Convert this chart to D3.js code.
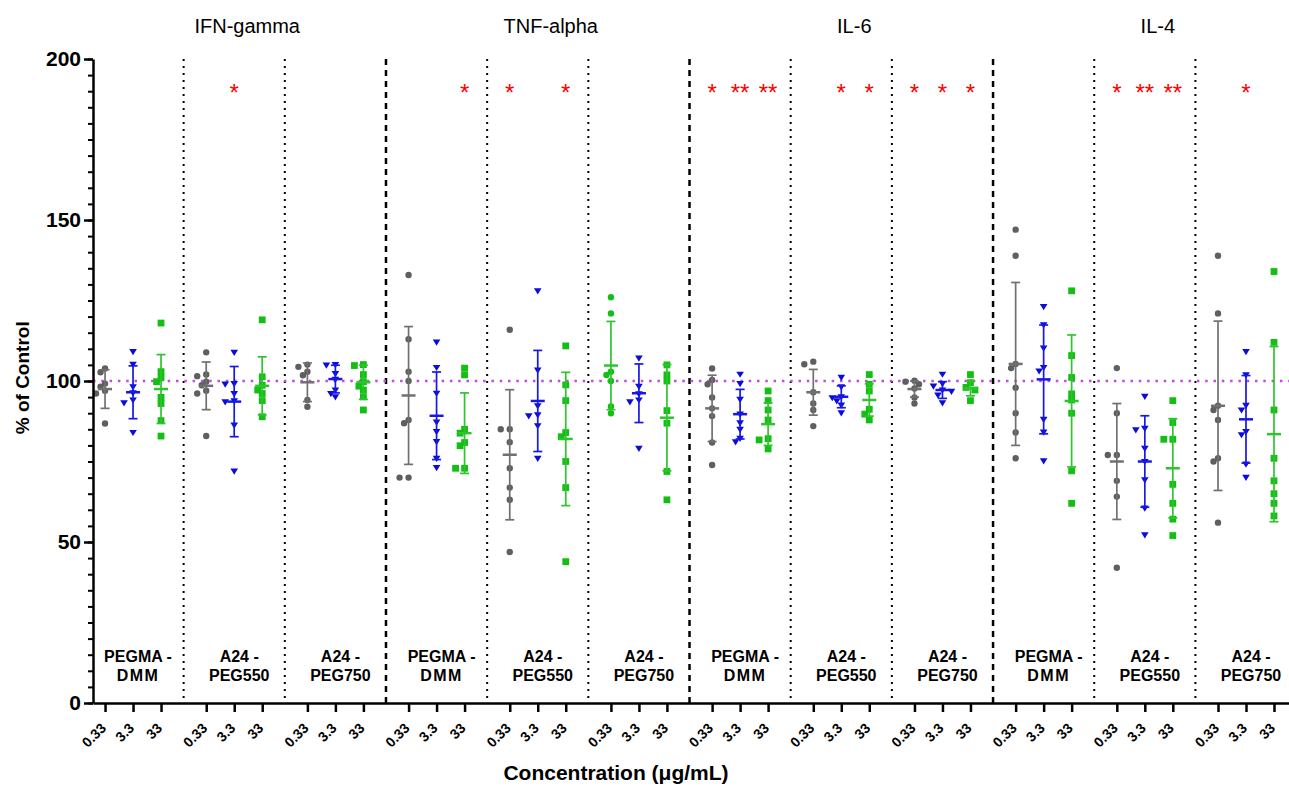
<!DOCTYPE html>
<html>
<head>
<meta charset="utf-8">
<script src="https://cdn.jsdelivr.net/npm/d3@7"></script>
<style>
  body { margin: 0; background: #fff; }
  text { font-family: "Liberation Sans", Arial, sans-serif; }
</style>
</head>
<body>
<div id="chart"></div>
<script>
// categories
var cytokines = ['IFN-gamma', 'TNF-alpha', 'IL-6', 'IL-4'];
var polymers = [['PEGMA -', 'DMM'], ['A24 -', 'PEG550'], ['A24 -', 'PEG750']];
var concLabels = ['0.33', '3.3', '33'];

// % of control, one array per column (cytokine x polymer x concentration)
var values = [
    [103.9, 102.7, 99.2, 98.2, 97.0, 96.1, 86.8],
    [109.1, 105.2, 98.2, 96.3, 94.1, 93.2, 84.0],
    [118, 102.9, 101.0, 99.8, 94.9, 93.0, 87.7, 82.9],
    [108.9, 102.0, 101.5, 99.8, 98.7, 97.0, 96.1, 82.9],
    [108.9, 99.2, 99.0, 96.1, 93.8, 93.5, 86.3, 72.0],
    [119, 101.3, 98.7, 97.2, 96.1, 93.9, 88.9],
    [105.1, 104.4, 102.9, 101.8, 94.1, 92.0],
    [105.1, 104.9, 102.3, 100.5, 97.2, 96.1, 95.1],
    [105.1, 104.8, 102.0, 99.8, 98.4, 97.2, 95.1, 91.0],
    [132.9, 113.0, 102.9, 100.0, 87.9, 86.9, 70.0, 70.0],
    [112.1, 104.2, 96.2, 87.2, 84.3, 81.2, 76.0, 73.1],
    [104.0, 101.9, 85.0, 83.8, 80.9, 79.9, 72.9, 72.9],
    [115.9, 85.0, 85.0, 81.0, 72.9, 66.9, 63.1, 46.9],
    [128.0, 103.4, 92.3, 89.5, 89.2, 86.1, 76.0],
    [110.9, 98.8, 93.9, 84.0, 82.7, 75.0, 66.9, 43.9],
    [126.0, 121.0, 102.9, 101.9, 100.0, 92.1, 90.0],
    [107.1, 98.3, 96.0, 94.1, 93.5, 79.1],
    [105.0, 101.9, 100.0, 90.8, 86.9, 71.9, 63.1],
    [103.9, 100.3, 99.0, 94.9, 91.5, 89.1, 80.9, 73.9],
    [102.1, 99.2, 94.3, 89.7, 87.0, 85.0, 82.2, 81.1],
    [96.9, 93.9, 91.0, 87.9, 82.1, 81.7, 78.9],
    [106.0, 105.2, 96.5, 93.0, 91.0, 86.0],
    [101.1, 98.2, 95.1, 94.8, 93.8, 92.5, 90.1],
    [102.0, 99.0, 96.9, 91.2, 89.7, 87.9],
    [100.1, 99.8, 99.0, 97.7, 94.9, 93.0],
    [102.1, 99.2, 98.4, 97.2, 96.8, 95.6, 93.2],
    [102.0, 99.5, 98.0, 97.2, 93.9],
    [147, 138.9, 105.3, 104.0, 97.9, 90.0, 84.0, 76.0],
    [123.1, 117.4, 110.2, 104.2, 103.1, 88.1, 84.1, 75.2],
    [128.0, 107.9, 101.1, 96.0, 94.1, 90.0, 72.1, 62.0],
    [104.0, 90.0, 77.0, 77.0, 69.0, 64.1, 42.0],
    [95.2, 85.3, 84.8, 79.1, 75.0, 69.3, 60.5, 52.2],
    [93.9, 87.1, 81.9, 81.9, 67.9, 62.0, 57.1, 52.0],
    [138.9, 121.0, 92.3, 91.0, 87.9, 76.0, 75.0, 56.0],
    [109.1, 101.9, 92.4, 91.0, 84.3, 83.3, 74.2, 70.1],
    [134.0, 112.0, 91.0, 76.0, 69.0, 65.0, 62.0, 58.1]
];

// mean and SD as plotted
var means = [97.5, 96.5, 97.5, 98.5, 93.6, 98.5, 99.6, 100.6, 99.6,
    95.5, 89.2, 83.8, 77.1, 93.8, 82.0, 104.8, 96.2, 88.6,
    91.5, 89.7, 86.6, 96.5, 95.1, 94.1, 97.5, 97.2, 97.7,
    105.3, 100.5, 93.8, 75.0, 75.0, 72.9, 92.3, 88.1, 83.5];
var sds = [6.0, 8.2, 10.7, 7.4, 10.9, 9.0, 6.0, 4.3, 5.3,
    21.4, 13.6, 12.5, 20.2, 15.7, 20.7, 13.7, 9.1, 16.5,
    10.3, 7.7, 6.6, 7.1, 3.4, 5.0, 2.5, 2.6, 2.3,
    25.3, 16.9, 20.5, 18.0, 14.2, 15.4, 26.3, 13.6, 27.2];

// significance marks: column index and label
var sigCols = [4, 11, 12, 14, 18, 19, 20, 22, 23, 24, 25, 26, 30, 31, 32, 34];
var sigLabels = ['*', '*', '*', '*', '*', '**', '**', '*', '*', '*', '*', '*', '*', '**', '**', '*'];

// one column plotted green circles instead of grey
var greenCircleCols = [15];

var yTicks = [0, 50, 100, 150, 200];
var controlLevel = 100;

(function() {

    ///////////////////////
    // layout and scales //
    ///////////////////////

    var width = 1289,
        height = 787;

    var plotLeft = 93, plotRight = 1289, plotTop = 59, plotBottom = 703;
    var groupStride = 3.614; // in concentration steps

    var grey = '#5f5f5f', blue = '#0b0bdc', green = '#12bf12';
    var concColors = [grey, blue, green];
    var barColors = ['#707070', '#1717e6', '#2ec42e'];
    var font = '"Liberation Sans", Arial, sans-serif';

    var svg = d3.select('#chart').append('svg')
        .attr('width', width)
        .attr('height', height)
        .style('background', '#fff');

    function colU(c) {
        var g = Math.floor(c / 3), k = c % 3;
        return g * groupStride + k;
    }

    var x = d3.scaleLinear()
        .domain([-0.43, 42.29])
        .range([plotLeft, plotRight]);

    var y = d3.scaleLinear()
        .domain([0, 200])
        .range([plotBottom, plotTop]);

    var cols = d3.range(values.length);

    // separators between polymer groups
    var seps = d3.range(1, 12).map(function(g) {
        return { u: g * groupStride - 0.807, major: g % 3 === 0 };
    });

    svg.selectAll('.sep')
        .data(seps)
        .enter()
        .append('line')
        .attr('x1', function(d) { return x(d.u); })
        .attr('x2', function(d) { return x(d.u); })
        .attr('y1', y(200))
        .attr('y2', y(0))
        .attr('stroke', '#000')
        .attr('stroke-width', function(d) { return d.major ? 2.5 : 2; })
        .attr('stroke-dasharray', function(d) { return d.major ? '6,5' : '2,5'; });

    // control level line
    svg.append('line')
        .attr('x1', plotLeft)
        .attr('x2', plotRight)
        .attr('y1', y(controlLevel))
        .attr('y2', y(controlLevel))
        .attr('stroke', '#c24be0')
        .attr('stroke-width', 2.5)
        .attr('stroke-dasharray', '2.5,5.8');

    ///////////////////////
    // points, mean, SD  //
    ///////////////////////

    function isGreenCircle(c) { return greenCircleCols.indexOf(c) >= 0; }
    function colorOf(c) { return isGreenCircle(c) ? green : concColors[c % 3]; }
    function barColorOf(c) { return isGreenCircle(c) ? barColors[2] : barColors[c % 3]; }
    function shapeOf(c) {
        if (isGreenCircle(c)) return 'circle';
        return ['circle', 'triangle', 'square'][c % 3];
    }

    // spread overlapping points sideways
    function spread(vals) {
        var sorted = vals.map(function(v, i) { return { v: v, i: i }; })
            .sort(function(a, b) { return b.v - a.v; });
        var placed = [];
        var offs = [0, -4.5, 4.5, -9, 9];
        sorted.forEach(function(p) {
            var py = y(p.v);
            for (var j = 0; j < offs.length; j++) {
                var ok = placed.every(function(q) {
                    var dx = q.dx - offs[j], dy = q.py - py;
                    return Math.sqrt(dx * dx + dy * dy) >= 5.5;
                });
                if (ok) { p.dx = offs[j]; break; }
            }
            if (p.dx === undefined) p.dx = 0;
            p.py = py;
            placed.push(p);
        });
        return placed;
    }

    var pts = [];
    cols.forEach(function(c) {
        spread(values[c]).forEach(function(p) {
            pts.push({ c: c, v: p.v, dx: p.dx });
        });
    });

    var tri = 'M-3.8,-2.6L3.8,-2.6L0,3.6Z';
    var sq = 'M-3.4,-3.4H3.4V3.4H-3.4Z';

    svg.selectAll('.pt')
        .data(pts)
        .enter()
        .append('path')
        .attr('class', 'pt')
        .attr('d', function(d) {
            var s = shapeOf(d.c);
            if (s === 'circle') return d3.symbol(d3.symbolCircle, 32)();
            if (s === 'square') return sq;
            return tri;
        })
        .attr('transform', function(d) {
            return 'translate(' + (x(colU(d.c)) + d.dx) + ',' + y(d.v) + ')';
        })
        .attr('fill', function(d) { return colorOf(d.c); });

    var bars = svg.selectAll('.bar')
        .data(cols)
        .enter()
        .append('g')
        .attr('class', 'bar')
        .attr('stroke', barColorOf);

    bars.append('line')
        .attr('x1', function(c) { return x(colU(c)); })
        .attr('x2', function(c) { return x(colU(c)); })
        .attr('y1', function(c) { return y(means[c] + sds[c]); })
        .attr('y2', function(c) { return y(means[c] - sds[c]); })
        .attr('stroke-width', 1.7);

    [1, -1].forEach(function(sign) {
        bars.append('line')
            .attr('x1', function(c) { return x(colU(c)) - 4.5; })
            .attr('x2', function(c) { return x(colU(c)) + 4.5; })
            .attr('y1', function(c) { return y(means[c] + sign * sds[c]); })
            .attr('y2', function(c) { return y(means[c] + sign * sds[c]); })
            .attr('stroke-width', 1.7);
    });

    bars.append('line')
        .attr('x1', function(c) { return x(colU(c)) - 7; })
        .attr('x2', function(c) { return x(colU(c)) + 7; })
        .attr('y1', function(c) { return y(means[c]); })
        .attr('y2', function(c) { return y(means[c]); })
        .attr('stroke-width', 2.5);

    //////////
    // axes //
    //////////

    var yMinor = svg.append('g')
        .attr('transform', 'translate(' + plotLeft + ',0)')
        .call(d3.axisLeft(y).tickValues(d3.range(0, 201, 5)).tickSize(5).tickFormat(''));
    yMinor.select('.domain').remove();
    yMinor.selectAll('line').attr('stroke-width', 2);

    var yAxis = svg.append('g')
        .attr('transform', 'translate(' + plotLeft + ',0)')
        .call(d3.axisLeft(y).tickValues(yTicks).tickSize(9).tickPadding(3).tickSizeOuter(0));
    yAxis.attr('font-family', font).attr('font-size', 21).attr('font-weight', 'bold');
    yAxis.select('.domain').attr('stroke-width', 2.5);
    yAxis.selectAll('line').attr('stroke-width', 2.5);
    yAxis.selectAll('text').attr('fill', '#000');

    var xAxis = svg.append('g')
        .attr('transform', 'translate(0,' + plotBottom + ')')
        .call(d3.axisBottom(x).tickValues(cols.map(colU)).tickSize(9).tickSizeOuter(0).tickFormat(''));
    xAxis.select('.domain').attr('stroke-width', 2.5);
    xAxis.selectAll('line').attr('stroke-width', 2.5);

    // slanted concentration labels
    svg.selectAll('.conc')
        .data(cols)
        .enter()
        .append('text')
        .attr('class', 'conc')
        .attr('transform', function(c) {
            return 'translate(' + (x(colU(c)) + 2) + ',' + (plotBottom + 26) + ') rotate(-45)';
        })
        .attr('text-anchor', 'end')
        .attr('font-size', 14)
        .attr('font-weight', 'bold')
        .text(function(c) { return concLabels[c % 3]; });

    // axis titles
    svg.append('text')
        .attr('x', 616)
        .attr('y', 780)
        .attr('text-anchor', 'middle')
        .attr('font-size', 21)
        .attr('font-weight', 'bold')
        .text('Concentration (\u03bcg/mL)');

    svg.append('text')
        .attr('transform', 'translate(29,' + y(101) + ') rotate(-90)')
        .attr('text-anchor', 'middle')
        .attr('font-size', 19)
        .attr('font-weight', 'bold')
        .text('% of Control');

    // cytokine titles
    svg.selectAll('.cyto')
        .data(cytokines)
        .enter()
        .append('text')
        .attr('x', function(d, i) { return x((i * 3 + 1) * groupStride + 1) + 13; })
        .attr('y', 33)
        .attr('text-anchor', 'middle')
        .attr('font-size', 20)
        .text(function(d) { return d; });

    // polymer labels
    var polyG = svg.selectAll('.poly')
        .data(d3.range(12))
        .enter()
        .append('text')
        .attr('text-anchor', 'middle')
        .attr('font-size', 16)
        .attr('font-weight', 'bold');
    polyG.append('tspan')
        .attr('x', function(g) { return x(g * groupStride + 1) + 5; })
        .attr('y', 662)
        .text(function(g) { return polymers[g % 3][0]; });
    polyG.append('tspan')
        .attr('x', function(g) { return x(g * groupStride + 1) + 5; })
        .attr('y', 681)
        .attr('letter-spacing', function(g) { return g % 3 === 0 ? 1.5 : 0; })
        .text(function(g) { return polymers[g % 3][1]; });

    // significance stars
    svg.selectAll('.sig')
        .data(sigCols)
        .enter()
        .append('text')
        .attr('x', function(c) { return x(colU(c)); })
        .attr('y', 101)
        .attr('text-anchor', 'middle')
        .attr('font-size', 24)
        .attr('fill', '#ff0000')
        .text(function(c, i) { return sigLabels[i]; });

})();
</script>
</body>
</html>
